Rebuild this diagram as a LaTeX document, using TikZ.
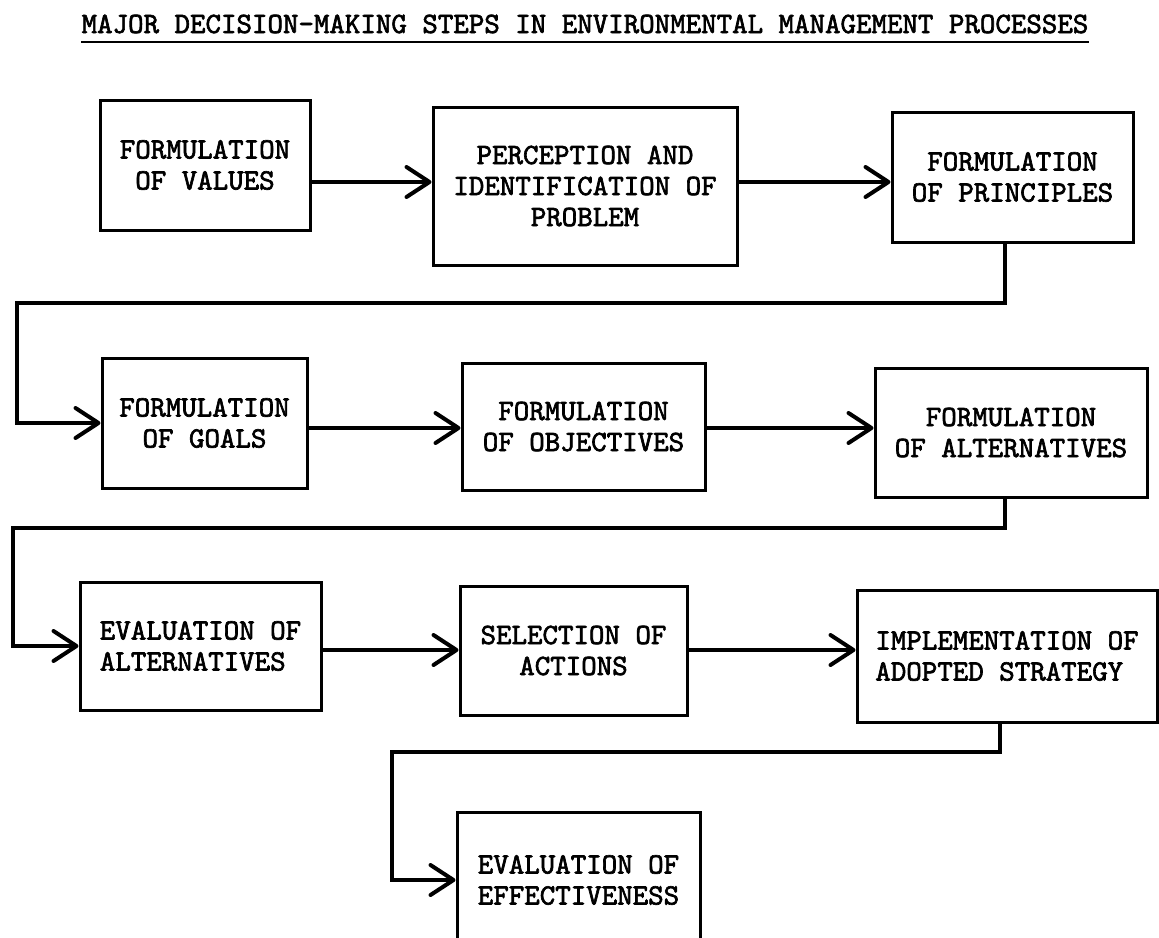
\documentclass[tikz,border=0pt]{standalone}
\usepackage{fontspec}
\newfontfamily\twfont{lmmono10-regular}[Extension=.otf, FakeBold=2.2]
\usetikzlibrary{arrows.meta}
\begin{document}
\begin{tikzpicture}[x=1pt,y=-1pt,
  box/.style={draw, line width=3pt, inner sep=0pt, align=center,
    font=\twfont\fontsize{29.5}{31}\selectfont},
  titlestyle/.style={inner sep=0pt, font=\twfont\fontsize{29.5}{31}\selectfont},
  conn/.style={line width=4pt, -{Straight Barb[length=23pt,width=30pt,round]}},
  ul/.style={line width=2.5pt}
]
\useasboundingbox (0,0) rectangle (1159,937);
\clip (0,0) rectangle (1159,937);

% title
\node[titlestyle, anchor=base] (title) at (585,33) {MAJOR DECISION-MAKING STEPS IN ENVIRONMENTAL MANAGEMENT PROCESSES};
\draw[ul] ([shift={(0,9)}]title.base west) -- ([shift={(0,9)}]title.base east);

% row 1
\node[box, minimum width=210pt, minimum height=130pt] (A) at (205,165) {FORMULATION\\OF VALUES};
\node[box, minimum width=304pt, minimum height=158pt] (B) at (585,186) {PERCEPTION AND\\IDENTIFICATION OF\\PROBLEM};
\node[box, minimum width=241pt, minimum height=130pt] (C) at (1012.5,177) {FORMULATION\\OF PRINCIPLES};

% row 2
\node[box, minimum width=205pt, minimum height=130pt] (D) at (204.5,423) {FORMULATION\\OF GOALS};
\node[box, minimum width=243pt, minimum height=127pt] (E) at (583.5,426.5) {FORMULATION\\OF OBJECTIVES};
\node[box, minimum width=272pt, minimum height=129pt] (F) at (1011,432.5) {FORMULATION\\OF ALTERNATIVES};

% row 3
\node[box, align=left, minimum width=241pt, minimum height=128pt] (G) at (200.5,646) {EVALUATION OF\\ALTERNATIVES};
\node[box, minimum width=227pt, minimum height=129pt] (H) at (573.5,650.5) {SELECTION OF\\ACTIONS};
\node[box, align=left, minimum width=300pt, minimum height=132pt] (I) at (1007,656) {IMPLEMENTATION OF\\ADOPTED STRATEGY};

% row 4
\node[box, align=left, minimum width=243pt, minimum height=136pt] (J) at (578.5,880) {EVALUATION OF\\EFFECTIVENESS};

% helper coordinates
\coordinate (r1) at (0,182);
\coordinate (r2) at (0,428);
\coordinate (r3) at (0,650);
\coordinate (c1) at (1005,303);
\coordinate (c2) at (17,303);
\coordinate (c3) at (1005,528);
\coordinate (c4) at (13,528);
\coordinate (c5) at (1000,752);
\coordinate (c6) at (392,752);

% horizontal arrows
\draw[conn] (A.east |- r1) -- (B.west |- r1);
\draw[conn] (B.east |- r1) -- (C.west |- r1);
\draw[conn] (D.east |- r2) -- (E.west |- r2);
\draw[conn] (E.east |- r2) -- (F.west |- r2);
\draw[conn] (G.east |- r3) -- (H.west |- r3);
\draw[conn] (H.east |- r3) -- (I.west |- r3);

% return connectors
\draw[conn] (C.south -| c1) |- (c2) |- (D.west);
\draw[conn] (F.south -| c3) |- (c4) |- (G.west);
\draw[conn] (I.south -| c5) |- (c6) |- (J.west);
\end{tikzpicture}
\end{document}
